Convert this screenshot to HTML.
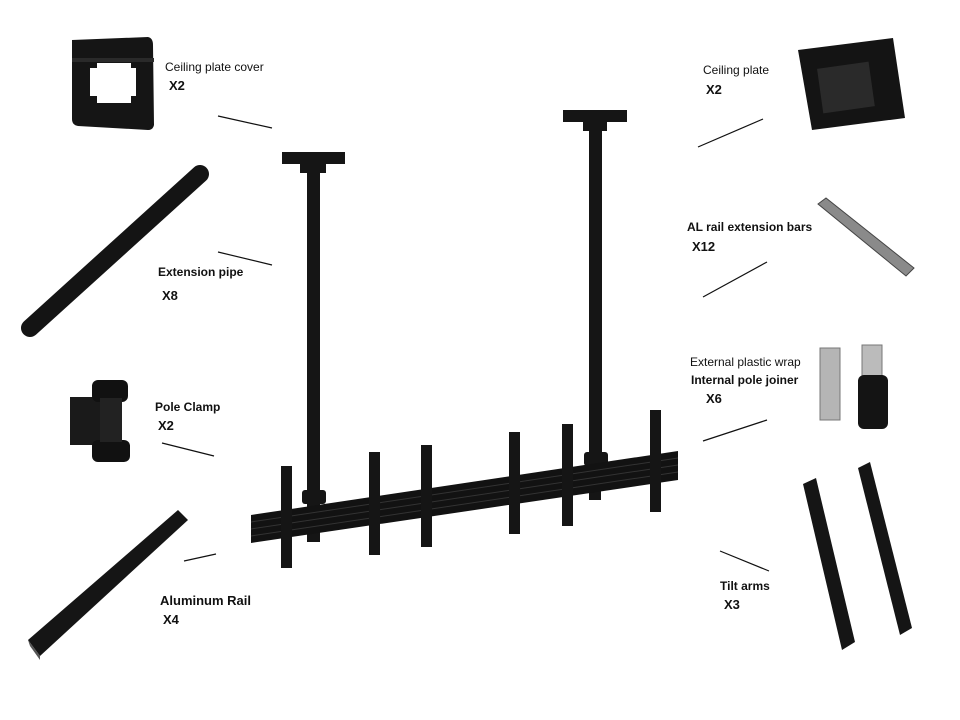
<!DOCTYPE html>
<html><head><meta charset="utf-8"><style>
html,body{margin:0;padding:0;background:#fff;}
svg{display:block;}
text{font-family:"Liberation Sans",Arial,sans-serif;fill:#111;}
.b{font-weight:bold;}
</style></head><body>
<svg width="960" height="720" viewBox="0 0 960 720" xmlns="http://www.w3.org/2000/svg">
<rect width="960" height="720" fill="#fff"/>
<!-- labels -->
<text x="165" y="71" font-size="12">Ceiling plate cover</text>
<text x="169" y="90" font-size="13" class="b">X2</text>
<text x="703" y="74" font-size="12">Ceiling plate</text>
<text x="706" y="94" font-size="13" class="b">X2</text>
<text x="687" y="231" font-size="12" class="b">AL rail extension bars</text>
<text x="692" y="251" font-size="13" class="b">X12</text>
<text x="158" y="276" font-size="12" class="b">Extension pipe</text>
<text x="162" y="300" font-size="13" class="b">X8</text>
<text x="690" y="366" font-size="12">External plastic wrap</text>
<text x="691" y="384" font-size="12" class="b">Internal pole joiner</text>
<text x="706" y="403" font-size="13" class="b">X6</text>
<text x="155" y="411" font-size="12" class="b">Pole Clamp</text>
<text x="158" y="430" font-size="13" class="b">X2</text>
<text x="720" y="590" font-size="12" class="b">Tilt arms</text>
<text x="724" y="609" font-size="13" class="b">X3</text>
<text x="160" y="605" font-size="13" class="b">Aluminum Rail</text>
<text x="163" y="624" font-size="13" class="b">X4</text>
<!-- leader lines -->
<g stroke="#111" stroke-width="1.2">
<line x1="218" y1="116" x2="272" y2="128"/>
<line x1="698" y1="147" x2="763" y2="119"/>
<line x1="218" y1="252" x2="272" y2="265"/>
<line x1="703" y1="297" x2="767" y2="262"/>
<line x1="162" y1="443" x2="214" y2="456"/>
<line x1="703" y1="441" x2="767" y2="420"/>
<line x1="184" y1="561" x2="216" y2="554"/>
<line x1="720" y1="551" x2="769" y2="571"/>
</g>
<!-- ceiling plate cover -->
<path d="M72 40 L148 37 Q153 38 153 45 L154 125 Q153 130 148 130 L78 126 Q72 125 72 119 Z" fill="#151515"/>
<rect x="97" y="63" width="34" height="40" fill="#fff"/>
<rect x="90" y="68" width="46" height="28" fill="#fff"/>
<rect x="72" y="58" width="82" height="4" fill="#2a2a2a"/>
<!-- extension pipe -->
<line x1="30" y1="328" x2="200" y2="174" stroke="#141414" stroke-width="18" stroke-linecap="round"/>
<!-- pole clamp -->
<rect x="70" y="397" width="48" height="48" fill="#1a1a1a"/>
<rect x="92" y="380" width="36" height="22" rx="6" fill="#111"/>
<rect x="92" y="440" width="38" height="22" rx="6" fill="#111"/>
<rect x="100" y="398" width="22" height="44" fill="#222"/>
<!-- aluminum rail -->
<polygon points="28,640 178,510 188,520 40,656" fill="#151515"/>
<polygon points="28,640 40,656 40,660 30,646" fill="#555"/>
<!-- ceiling plate right -->
<polygon points="798,50 893,38 905,118 812,130" fill="#141414"/>
<rect x="820" y="65" width="52" height="45" fill="#2a2a2a" transform="rotate(-8 846 88)"/>
<!-- AL rail extension bar -->
<polygon points="818,204 826,198 914,268 906,276" fill="#8a8a8a" stroke="#444"/>
<!-- pole joiners -->
<rect x="820" y="348" width="20" height="72" fill="#b5b5b5" stroke="#777"/>
<rect x="862" y="345" width="20" height="40" fill="#bbb" stroke="#777"/>
<rect x="858" y="375" width="30" height="54" rx="6" fill="#141414"/>
<!-- tilt arms right -->
<polygon points="803,484 816,478 855,642 842,650" fill="#151515"/>
<polygon points="858,468 870,462 912,628 900,635" fill="#151515"/>
<!-- main assembly poles -->
<rect x="282" y="152" width="63" height="12" fill="#151515"/>
<rect x="300" y="163" width="26" height="10" fill="#151515"/>
<rect x="307" y="170" width="13" height="340" fill="#151515"/>
<rect x="302" y="490" width="24" height="14" rx="3" fill="#151515"/>
<rect x="307" y="530" width="13" height="12" fill="#151515"/>
<rect x="563" y="110" width="64" height="12" fill="#151515"/>
<rect x="583" y="121" width="24" height="10" fill="#151515"/>
<rect x="589" y="128" width="13" height="334" fill="#151515"/>
<rect x="584" y="452" width="24" height="14" rx="3" fill="#151515"/>
<rect x="589" y="490" width="12" height="10" fill="#151515"/>
<!-- rail -->
<polygon points="251,515 678,451 678,480 251,543" fill="#121212"/>
<g stroke="#333" stroke-width="1">
<line x1="251" y1="522" x2="678" y2="458"/>
<line x1="251" y1="529" x2="678" y2="465"/>
<line x1="251" y1="536" x2="678" y2="472"/>
</g>
<!-- tilt arms on rail -->
<g fill="#151515">
<rect x="281" y="466" width="11" height="102"/>
<rect x="369" y="452" width="11" height="103"/>
<rect x="421" y="445" width="11" height="102"/>
<rect x="509" y="432" width="11" height="102"/>
<rect x="562" y="424" width="11" height="102"/>
<rect x="650" y="410" width="11" height="102"/>
</g>
</svg>
</body></html>
